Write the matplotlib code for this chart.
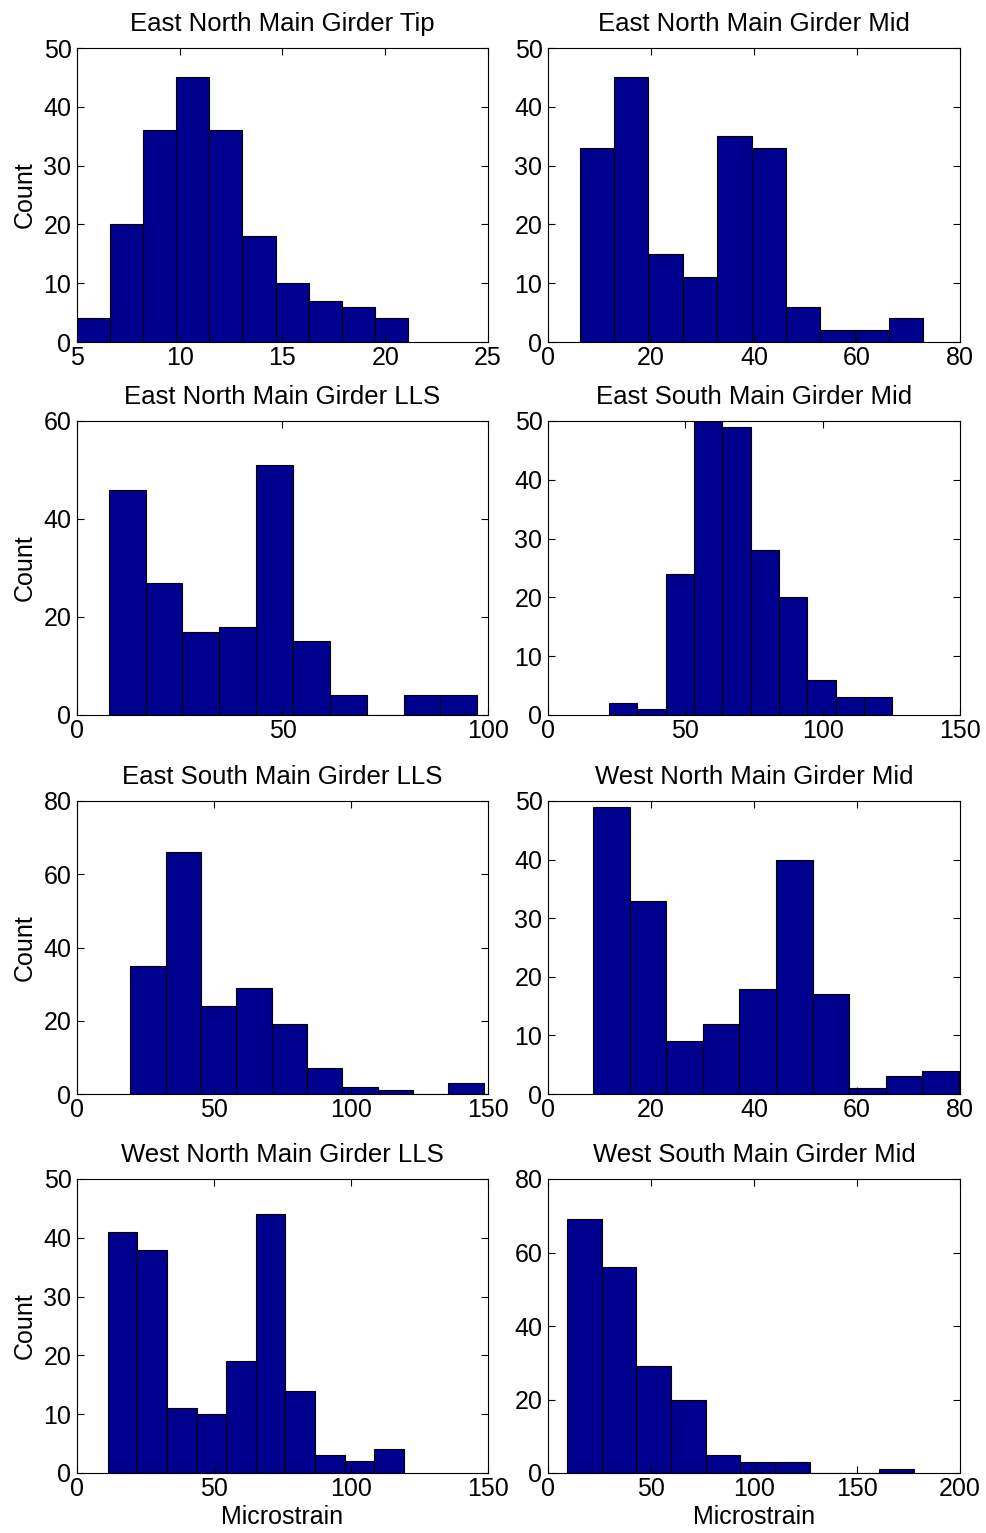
import numpy as np
import matplotlib
matplotlib.use('Agg')
import matplotlib.pyplot as plt

plt.rcParams['font.family'] = ['Liberation Sans', 'DejaVu Sans']

# 10-bin histograms: data range (lo, hi) and counts per bin
titles = ['East North Main Girder Tip', 'East North Main Girder Mid',
          'East North Main Girder LLS', 'East South Main Girder Mid',
          'East South Main Girder LLS', 'West North Main Girder Mid',
          'West North Main Girder LLS', 'West South Main Girder Mid']

ranges = [(5.0, 21.1), (6.15, 72.9), (7.7, 97.4), (22.2, 125.3),
          (19.4, 148.4), (8.74, 79.8), (11.2, 119.3), (9.2, 177.6)]

counts = [
    [4, 20, 36, 45, 36, 18, 10, 7, 6, 4],
    [33, 45, 15, 11, 35, 33, 6, 2, 2, 4],
    [46, 27, 17, 18, 51, 15, 4, 0, 4, 4],
    [2, 1, 24, 50, 49, 28, 20, 6, 3, 3],
    [35, 66, 24, 29, 19, 7, 2, 1, 0, 3],
    [49, 33, 9, 12, 18, 40, 17, 1, 3, 4],
    [41, 38, 11, 10, 19, 44, 14, 3, 2, 4],
    [69, 56, 29, 20, 5, 3, 3, 0, 0, 1],
]

xlims = [(5, 25), (0, 80), (0, 100), (0, 150), (0, 150), (0, 80), (0, 150), (0, 200)]
xticks = [[5, 10, 15, 20, 25], [0, 20, 40, 60, 80], [0, 50, 100], [0, 50, 100, 150],
          [0, 50, 100, 150], [0, 20, 40, 60, 80], [0, 50, 100, 150], [0, 50, 100, 150, 200]]
ylims = [50, 50, 60, 50, 80, 50, 50, 80]
ysteps = [10, 10, 20, 10, 20, 10, 10, 20]

# axes boxes in pixels (left, top, right, bottom)
W, H = 987, 1533
cols = [(77, 488), (548, 960)]
rows = [(48, 342), (421, 715), (801, 1094), (1179, 1473)]

fig = plt.figure(figsize=(W / 100, H / 100), dpi=100)

for i in range(8):
    r, c = divmod(i, 2)
    x0, x1 = cols[c]
    y0, y1 = rows[r]
    ax = fig.add_axes([x0 / W, 1 - y1 / H, (x1 - x0) / W, (y1 - y0) / H])

    lo, hi = ranges[i]
    edges = np.linspace(lo, hi, len(counts[i]) + 1)
    centers = (edges[:-1] + edges[1:]) / 2
    ax.hist(centers, bins=edges, weights=counts[i], color='#00008F',
            edgecolor='black', linewidth=0.8)

    ax.set_xlim(*xlims[i])
    ax.set_ylim(0, ylims[i])
    ax.set_xticks(xticks[i])
    ax.set_yticks(np.arange(0, ylims[i] + 1, ysteps[i]))
    ax.tick_params(direction='in', top=True, right=True, length=5, width=0.8,
                   labelsize=18)
    ax.tick_params(axis='x', pad=3)
    ax.tick_params(axis='y', pad=4)
    for s in ax.spines.values():
        s.set_linewidth(0.8)

    ax.set_title(titles[i], fontsize=18.5, pad=12)
    if c == 0:
        ax.set_ylabel('Count', fontsize=18, labelpad=5)
    if r == 3:
        ax.set_xlabel('Microstrain', fontsize=18, labelpad=3)

fig.savefig('out.png', dpi=100)
